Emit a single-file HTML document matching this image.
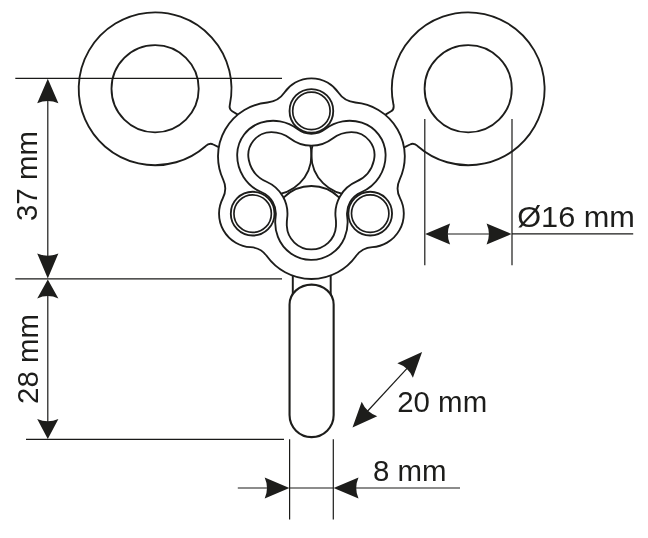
<!DOCTYPE html>
<html><head><meta charset="utf-8"><title>Dimensions</title>
<style>
html,body{margin:0;padding:0;background:#fff;}
body{width:648px;height:538px;overflow:hidden;font-family:"Liberation Sans",sans-serif;}
svg{display:block;}
</style></head><body>
<svg width="648" height="538" viewBox="0 0 648 538">
<rect width="648" height="538" fill="#fff"/>
<defs><clipPath id="ic"><path d="M 290.17 138.47 A 34.80 34.80 0 0 0 332.63 138.47 A 30.70 30.70 0 0 1 351.53 132.10 A 23.10 23.10 0 0 1 373.97 160.13 A 30.70 30.70 0 0 1 356.27 181.71 A 34.80 34.80 0 0 0 335.68 217.99 A 45.00 45.00 0 0 1 335.95 226.39 A 24.60 24.60 0 0 1 286.83 226.01 A 45.00 45.00 0 0 1 287.16 218.15 A 34.80 34.80 0 0 0 266.56 181.75 A 30.70 30.70 0 0 1 248.81 160.03 A 23.10 23.10 0 0 1 271.27 132.10 A 30.70 30.70 0 0 1 290.17 138.47 Z"/></clipPath></defs>
<g fill="#fff" stroke="#1d1d1b" stroke-width="1.85" stroke-linejoin="round" stroke-linecap="round">
<path d="M 205.52 146.20 A 76.40 76.40 0 1 1 229.90 104.33 Q 228.75 109.25 232.2 111.3 L 237.4 114.4 L 245 125 L 226 150 L 218.6 147.15 L 213.3 144.5 Q 209.4 142.4 205.52 146.20 Z"/>
<g transform="translate(623.30 0) scale(-1 1)"><path d="M 205.52 146.20 A 76.40 76.40 0 1 1 229.90 104.33 Q 228.75 109.25 232.2 111.3 L 237.4 114.4 L 245 125 L 226 150 L 218.6 147.15 L 213.3 144.5 Q 209.4 142.4 205.52 146.20 Z"/></g>
<circle cx="155.10" cy="88.80" r="43.60"/>
<circle cx="468.20" cy="88.80" r="43.60"/>
<path stroke-width="1.95" d="M 292.8 270 L 292.8 298 M 330.7 270 L 330.7 298" fill="none"/><path stroke-width="2.1" d="M 289.55 304.40 A 22.05 19.80 0 0 1 333.65 304.40 L 333.65 415.05 A 22.05 22.05 0 0 1 289.55 415.05 Z"/>
<path d="M 284.46 92.55 A 32.60 32.60 0 0 1 338.34 92.55 A 23.00 23.00 0 0 0 355.34 102.51 A 54.20 54.20 0 0 1 399.66 179.54 A 21.00 21.00 0 0 0 400.03 198.13 A 33.60 33.60 0 0 1 372.32 247.13 A 22.00 22.00 0 0 0 355.86 256.23 A 54.80 54.80 0 0 1 266.96 256.27 A 22.00 22.00 0 0 0 250.52 247.18 A 33.60 33.60 0 0 1 222.81 198.20 A 21.00 21.00 0 0 0 223.17 179.59 A 54.20 54.20 0 0 1 267.46 102.51 A 23.00 23.00 0 0 0 284.46 92.55 Z"/>
<path d="M 297.52 128.99 A 22.80 22.80 0 0 0 325.28 128.99 A 40.00 40.00 0 0 1 361.84 122.63 A 34.20 34.20 0 0 1 385.58 154.12 A 40.00 40.00 0 0 1 361.17 192.23 A 23.20 23.20 0 0 0 347.23 216.84 A 40.00 40.00 0 0 1 344.52 237.86 A 35.90 35.90 0 0 1 277.91 236.94 A 40.00 40.00 0 0 1 275.62 216.91 A 23.20 23.20 0 0 0 261.66 192.27 A 40.00 40.00 0 0 1 237.22 153.95 A 34.20 34.20 0 0 1 260.96 122.63 A 40.00 40.00 0 0 1 297.52 128.99 Z" fill="none"/>
<path d="M 290.17 138.47 A 34.80 34.80 0 0 0 332.63 138.47 A 30.70 30.70 0 0 1 351.53 132.10 A 23.10 23.10 0 0 1 373.97 160.13 A 30.70 30.70 0 0 1 356.27 181.71 A 34.80 34.80 0 0 0 335.68 217.99 A 45.00 45.00 0 0 1 335.95 226.39 A 24.60 24.60 0 0 1 286.83 226.01 A 45.00 45.00 0 0 1 287.16 218.15 A 34.80 34.80 0 0 0 266.56 181.75 A 30.70 30.70 0 0 1 248.81 160.03 A 23.10 23.10 0 0 1 271.27 132.10 A 30.70 30.70 0 0 1 290.17 138.47 Z" fill="none"/>
<circle cx="271.50" cy="155.00" r="39.90" fill="none" clip-path="url(#ic)"/>
<circle cx="351.30" cy="155.00" r="39.90" fill="none" clip-path="url(#ic)"/>
<circle cx="311.40" cy="225.00" r="39.00" fill="none" clip-path="url(#ic)"/>
<circle cx="311.40" cy="110.90" r="21.85" fill="none"/>
<circle cx="311.40" cy="110.90" r="18.70" fill="none" stroke-width="1.67"/>
<circle cx="252.65" cy="213.65" r="21.85" fill="none"/>
<circle cx="252.65" cy="213.65" r="18.70" fill="none" stroke-width="1.67"/>
<circle cx="370.20" cy="213.60" r="21.85" fill="none"/>
<circle cx="370.20" cy="213.60" r="18.70" fill="none" stroke-width="1.67"/>
</g>
<g fill="none" stroke="#1a1a18" stroke-width="1.20">
<line x1="15.30" y1="78.40" x2="282.00" y2="78.40"/>
<line x1="15.30" y1="278.85" x2="282.00" y2="278.85"/>
<line x1="26.00" y1="439.30" x2="284.00" y2="439.30"/>
<line x1="47.80" y1="95.00" x2="47.80" y2="262.00"/>
<line x1="47.80" y1="292.00" x2="47.80" y2="426.00"/>
<line x1="424.80" y1="119.00" x2="424.80" y2="265.30"/>
<line x1="512.00" y1="119.00" x2="512.00" y2="265.30"/>
<line x1="440.00" y1="234.00" x2="497.00" y2="234.00"/>
<line x1="512.00" y1="233.80" x2="633.20" y2="233.80"/>
<line x1="289.60" y1="439.30" x2="289.60" y2="519.60"/>
<line x1="333.30" y1="439.30" x2="333.30" y2="519.60"/>
<line x1="237.80" y1="488.00" x2="272.00" y2="488.00"/>
<line x1="289.60" y1="488.00" x2="333.30" y2="488.00"/>
<line x1="350.00" y1="488.00" x2="460.00" y2="488.00"/>
<line x1="364.00" y1="415.00" x2="411.00" y2="364.20"/>
</g>
<g fill="#1d1d1b" stroke="none">
<path d="M 47.80 78.70 L 58.40 103.30 Q 47.80 98.70 37.20 103.30 Z"/>
<path d="M 47.80 278.50 L 37.20 253.40 Q 47.80 258.00 58.40 253.40 Z"/>
<path d="M 47.80 279.40 L 58.40 298.40 Q 47.80 293.80 37.20 298.40 Z"/>
<path d="M 47.80 439.00 L 37.20 419.00 Q 47.80 423.60 58.40 419.00 Z"/>
<path d="M 425.10 234.00 L 450.10 223.40 Q 445.50 234.00 450.10 244.60 Z"/>
<path d="M 511.60 234.00 L 486.60 244.60 Q 491.20 234.00 486.60 223.40 Z"/>
<path d="M 289.40 488.00 L 264.70 498.60 Q 269.30 488.00 264.70 477.40 Z"/>
<path d="M 333.60 488.00 L 358.50 477.40 Q 353.90 488.00 358.50 498.60 Z"/>
<path d="M 352.50 427.40 L 361.69 401.85 Q 366.35 412.42 377.25 416.24 Z"/>
<path d="M 422.10 352.10 L 412.91 377.65 Q 408.25 367.08 397.35 363.26 Z"/>
</g>
<g opacity="0.999" fill="#1d1d1b" font-family="'Liberation Sans', sans-serif" font-size="29.90">
<text transform="translate(37.40 221.00) rotate(-90) scale(0.985 1)">37 mm</text>
<text transform="translate(37.90 403.90) rotate(-90) scale(0.985 1)">28 mm</text>
<text transform="translate(517.20 226.60) scale(1.027 1)">Ø16 mm</text>
<text transform="translate(397.20 411.80) scale(0.985 1)">20 mm</text>
<text transform="translate(373.00 480.80) scale(0.985 1)">8 mm</text>
</g>
</svg>
</body></html>
